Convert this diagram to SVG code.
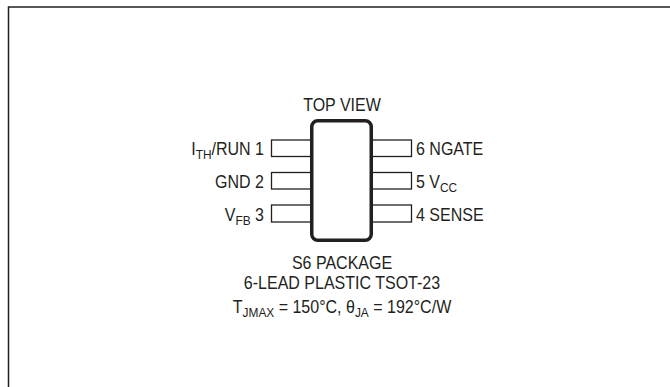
<svg xmlns="http://www.w3.org/2000/svg" width="670" height="387" viewBox="0 0 670 387">
<style>
text{font-family:"Liberation Sans",Arial,sans-serif;font-size:17.5px;fill:#231f20}
.sub{font-size:13px}
.pin{fill:#fff;stroke:#231f20;stroke-width:1.3}
.frame{fill:none;stroke:#231f20;stroke-width:1.5}
</style>
<rect width="670" height="387" fill="#fff"/>
<path class="frame" d="M8.5,400 V7 H680"/>
<g id="pins">
<rect class="pin" x="271.5" y="140" width="40" height="16.5"/>
<rect class="pin" x="271.5" y="172.5" width="40" height="16.5"/>
<rect class="pin" x="271.5" y="205" width="40" height="17"/>
<rect class="pin" x="371.5" y="140" width="40" height="16.5"/>
<rect class="pin" x="371.5" y="172.5" width="40" height="16.5"/>
<rect class="pin" x="371.5" y="205" width="40" height="17"/>
</g>
<g id="chip">
<rect x="311.75" y="120.75" width="59.5" height="119.5" rx="6" fill="#fff" stroke="#231f20" stroke-width="3.5"/>
</g>
<g id="labels">
<g transform="translate(342,110.7) scale(0.915,1)"><text text-anchor="middle">TOP VIEW</text></g>
<g transform="translate(264,155) scale(0.915,1)"><text text-anchor="end">I<tspan class="sub" dy="4">TH</tspan><tspan dy="-4">/RUN 1</tspan></text></g>
<g transform="translate(264,188) scale(0.915,1)"><text text-anchor="end">GND 2</text></g>
<g transform="translate(264,220.5) scale(0.915,1)"><text text-anchor="end">V<tspan class="sub" dy="4">FB</tspan><tspan dy="-4"> 3</tspan></text></g>
<g transform="translate(416,155) scale(0.915,1)"><text>6 NGATE</text></g>
<g transform="translate(416,188) scale(0.915,1)"><text>5 V<tspan class="sub" dy="4">CC</tspan></text></g>
<g transform="translate(416,220.5) scale(0.915,1)"><text>4 SENSE</text></g>
<g transform="translate(342,268.5) scale(0.915,1)"><text text-anchor="middle">S6 PACKAGE</text></g>
<g transform="translate(342,289) scale(0.915,1)"><text text-anchor="middle">6-LEAD PLASTIC TSOT-23</text></g>
<g transform="translate(342,312.5) scale(0.915,1)"><text text-anchor="middle">T<tspan class="sub" dy="4">JMAX</tspan><tspan dy="-4"> = 150°C, θ</tspan><tspan class="sub" dy="4">JA</tspan><tspan dy="-4"> = 192°C/W</tspan></text></g>
</g>
</svg>
